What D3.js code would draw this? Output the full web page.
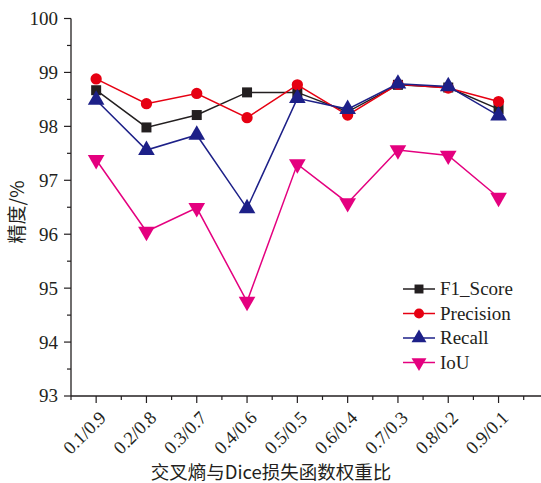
<!DOCTYPE html>
<html>
<head>
<meta charset="utf-8">
<script src="https://cdn.jsdelivr.net/npm/d3@7"></script>
<style>
  html, body { margin: 0; padding: 0; background: #fff; }
  svg { display: block; }
  text { font-family: "Liberation Serif", "Times New Roman", serif; fill: #231f20; }
  .cjk { font-family: "Noto Sans CJK SC", sans-serif; }
</style>
</head>
<body>
<svg id="chart" width="541" height="483"></svg>
<script>
// Weight ratio of cross-entropy to Dice loss
const categories = ["0.1/0.9", "0.2/0.8", "0.3/0.7", "0.4/0.6", "0.5/0.5", "0.6/0.4", "0.7/0.3", "0.8/0.2", "0.9/0.1"];

// Segmentation metrics (%)
const f1Score   = [98.67, 97.98, 98.21, 98.63, 98.63, 98.27, 98.77, 98.72, 98.32];
const precision = [98.88, 98.42, 98.61, 98.16, 98.77, 98.21, 98.78, 98.71, 98.46];
const recall    = [98.49, 97.56, 97.84, 96.48, 98.52, 98.32, 98.79, 98.74, 98.20];
const iou       = [97.38, 96.05, 96.49, 94.75, 97.30, 96.58, 97.56, 97.46, 96.68];

const yTicks = [93, 94, 95, 96, 97, 98, 99, 100];

const seriesNames = ["F1_Score", "Precision", "Recall", "IoU"];
const seriesValues = [f1Score, precision, recall, iou];
const seriesColors = ["#231f20", "#e60012", "#1d2088", "#e4007f"];
const seriesSymbols = [d3.symbolSquare, d3.symbolCircle, d3.symbolTriangle, d3.symbolTriangle];
const symbolSizes = [100, 100, 120, 120];
const symbolRotation = [0, 0, 0, 180];

const svg = d3.select("#chart");
const axisColor = "#231f20";

const plotLeft = 71, plotBottom = 396, plotTop = 18.5, plotRight = 541;
const step = 50.3;

// Category index i sits at x(i + 1); the axis starts half a step before the first one.
const x = d3.scaleLinear()
  .domain([0.5, 0.5 + (plotRight - plotLeft) / step])
  .range([plotLeft, plotRight]);
const y = d3.scaleLinear().domain([93, 100]).range([plotBottom, plotTop]);

// ---- y axis ----
const yAxisG = svg.append("g");
yAxisG.append("line")
  .attr("x1", plotLeft).attr("x2", plotLeft)
  .attr("y1", y(100)).attr("y2", plotBottom)
  .attr("stroke", axisColor).attr("stroke-width", 1.3);
const yMinor = d3.range(93.5, 100, 1);
yAxisG.selectAll(".ymin").data(yMinor).join("line")
  .attr("x1", plotLeft - 4).attr("x2", plotLeft)
  .attr("y1", d => y(d)).attr("y2", d => y(d))
  .attr("stroke", axisColor).attr("stroke-width", 1.2);
yAxisG.selectAll(".ymaj").data(yTicks).join("line")
  .attr("x1", plotLeft - 7).attr("x2", plotLeft)
  .attr("y1", d => y(d)).attr("y2", d => y(d))
  .attr("stroke", axisColor).attr("stroke-width", 1.2);
yAxisG.selectAll(".ylab").data(yTicks).join("text")
  .attr("x", plotLeft - 13).attr("y", d => y(d))
  .attr("dy", "0.34em")
  .attr("text-anchor", "end")
  .attr("font-size", 19)
  .text(d => d);

// ---- x axis ----
const xAxisG = svg.append("g");
xAxisG.append("line")
  .attr("x1", plotLeft).attr("x2", plotRight)
  .attr("y1", plotBottom).attr("y2", plotBottom)
  .attr("stroke", axisColor).attr("stroke-width", 1.3);
const xMinor = d3.range(0.5, 10, 1);
xAxisG.selectAll(".xmin").data(xMinor).join("line")
  .attr("x1", d => x(d)).attr("x2", d => x(d))
  .attr("y1", plotBottom).attr("y2", plotBottom + 4)
  .attr("stroke", axisColor).attr("stroke-width", 1.2);
xAxisG.selectAll(".xmaj").data(categories).join("line")
  .attr("x1", (d, i) => x(i + 1)).attr("x2", (d, i) => x(i + 1))
  .attr("y1", plotBottom).attr("y2", plotBottom + 7)
  .attr("stroke", axisColor).attr("stroke-width", 1.2);
xAxisG.selectAll(".xlab").data(categories).join("text")
  .attr("transform", (d, i) => `translate(${x(i + 1) + 11},${plotBottom + 23}) rotate(-45)`)
  .attr("text-anchor", "end")
  .attr("font-size", 18.5)
  .text(d => d);

// ---- axis titles ----
svg.append("text")
  .attr("class", "cjk")
  .attr("x", 271).attr("y", 479)
  .attr("text-anchor", "middle")
  .attr("font-size", 18.5)
  .text("交叉熵与Dice损失函数权重比");

svg.append("text")
  .attr("class", "cjk")
  .attr("transform", "translate(24,212) rotate(-90)")
  .attr("text-anchor", "middle")
  .attr("font-size", 19)
  .text("精度/%");

// ---- series ----
const line = d3.line().x((d, i) => x(i + 1)).y(d => y(d));

seriesValues.forEach((vals, s) => {
  const g = svg.append("g");
  g.append("path")
    .datum(vals)
    .attr("d", line)
    .attr("fill", "none")
    .attr("stroke", seriesColors[s])
    .attr("stroke-width", 1.5);
  g.selectAll("path.m").data(vals).join("path")
    .attr("class", "m")
    .attr("d", d3.symbol(seriesSymbols[s], symbolSizes[s]))
    .attr("transform", (d, i) => `translate(${x(i + 1)},${y(d)}) rotate(${symbolRotation[s]})`)
    .attr("fill", seriesColors[s]);
});

// ---- legend ----
const legendRows = [289, 313.5, 338, 362.5];
const legend = svg.append("g");
seriesNames.forEach((name, s) => {
  const ly = legendRows[s];
  legend.append("line")
    .attr("x1", 403).attr("x2", 435)
    .attr("y1", ly).attr("y2", ly)
    .attr("stroke", seriesColors[s]).attr("stroke-width", 1.5);
  legend.append("path")
    .attr("d", d3.symbol(seriesSymbols[s], symbolSizes[s] * 0.8))
    .attr("transform", `translate(419,${ly}) rotate(${symbolRotation[s]})`)
    .attr("fill", seriesColors[s]);
  legend.append("text")
    .attr("x", 440).attr("y", ly)
    .attr("dy", "0.33em")
    .attr("font-size", 19)
    .text(name);
});
</script>
</body>
</html>
